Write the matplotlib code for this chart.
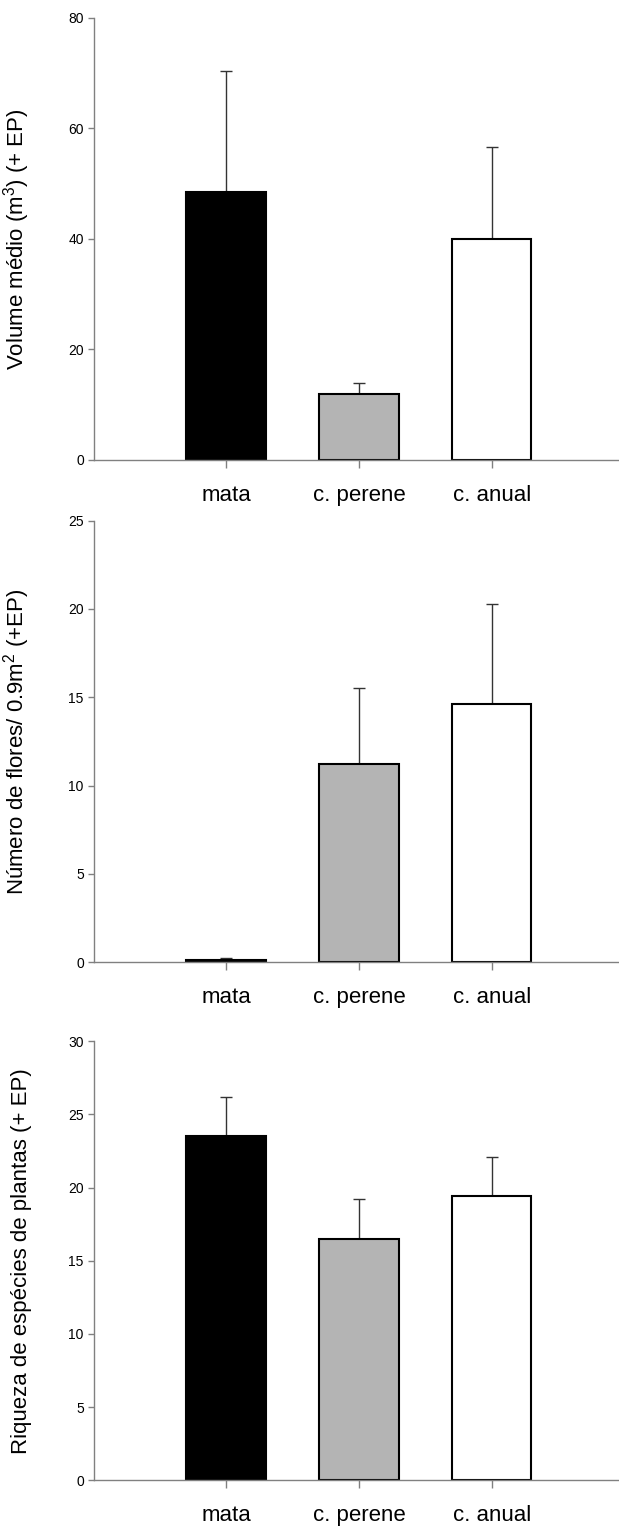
import matplotlib
matplotlib.use("Agg")
import matplotlib.pyplot as plt
import numpy as np

# ===================== dados =====================
categorias = ['mata', 'c. perene', 'c. anual']
cores = ['black', '#b4b4b4', 'white']

volume = [48.4, 11.9, 40.0]
volume_ep = [22.0, 2.1, 16.6]

flores = [0.15, 11.2, 14.6]
flores_ep = [0.1, 4.35, 5.7]

riqueza = [23.5, 16.45, 19.45]
riqueza_ep = [2.7, 2.8, 2.65]

paineis = [
    (volume, volume_ep, 'Volume médio (m$^3$) (+ EP)', 80, 20),
    (flores, flores_ep, 'Número de flores/ 0.9m$^2$ (+EP)', 25, 5),
    (riqueza, riqueza_ep, 'Riqueza de espécies de plantas (+ EP)', 30, 5),
]

# posições dos eixos (fração da figura)
posicoes = [
    [0.1512, 0.6986, 0.8488, 0.2898],
    [0.1512, 0.3694, 0.8488, 0.2894],
    [0.1512, 0.0300, 0.8488, 0.2877],
]

plt.rcParams['font.family'] = ['Liberation Sans', 'DejaVu Sans']
plt.rcParams['mathtext.fontset'] = 'custom'
plt.rcParams['mathtext.rm'] = 'Liberation Sans'

fig = plt.figure(figsize=(6.19, 15.26), dpi=100)
x = np.arange(len(categorias))

for (vals, ep, rotulo, ymax, passo), pos in zip(paineis, posicoes):
    ax = fig.add_axes(pos)
    ax.bar(x, vals, width=0.6, color=cores, edgecolor='black', linewidth=1.5, zorder=2)
    ax.errorbar(x, vals, yerr=[np.zeros(len(vals)), ep], fmt='none',
                ecolor='#333333', elinewidth=1.0, capsize=4.5, capthick=1.0, zorder=1)
    ax.set_xlim(-1, 2.96)
    ax.set_ylim(0, ymax)
    ax.set_yticks(np.arange(0, ymax + 0.1, passo))
    ax.set_xticks(x)
    ax.set_xticklabels(categorias, fontsize=16)
    ax.tick_params(axis='y', labelsize=10, length=4, width=1, color='#808080', pad=3)
    ax.tick_params(axis='x', length=6, width=1, color='#808080', pad=12)
    for lado in ['top', 'right']:
        ax.spines[lado].set_visible(False)
    for lado in ['left', 'bottom']:
        ax.spines[lado].set_color('#808080')
        ax.spines[lado].set_linewidth(1.0)
    ax.set_ylabel(rotulo, fontsize=16)
    ax.yaxis.set_label_coords(-0.117, 0.5)

fig.savefig('out.png', dpi=100)
